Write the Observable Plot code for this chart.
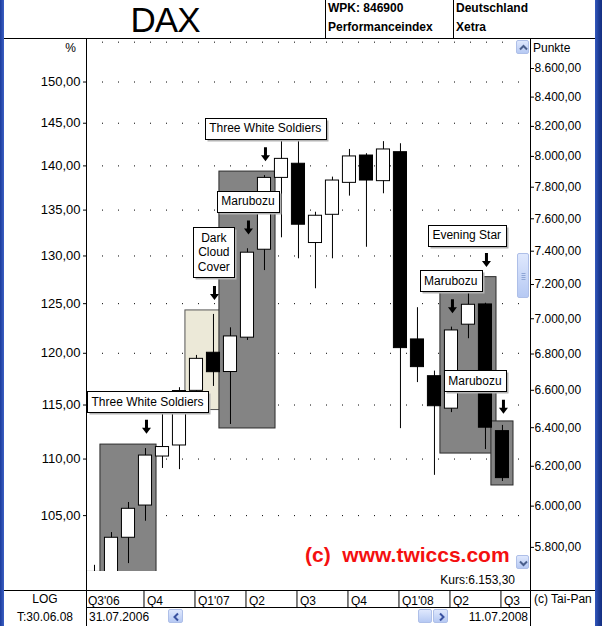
<!DOCTYPE html>
<html>
<head>
<meta charset="utf-8">
<script src="https://cdn.jsdelivr.net/npm/d3@7"></script>
<script src="https://cdn.jsdelivr.net/npm/@observablehq/plot@0.6"></script>
<style>
html,body{margin:0;padding:0;background:#fff;}
body{width:602px;height:626px;position:relative;overflow:hidden;font-family:"Liberation Sans",Arial,sans-serif;color:#000;}
.abs{position:absolute;white-space:pre;}
.ln{position:absolute;background:#000;}
.t12{font-size:12px;line-height:16px;}
.b12{font-size:12px;line-height:16px;font-weight:bold;}
.btn{position:absolute;box-sizing:border-box;border:1px solid #aebfe8;border-radius:2px;background:linear-gradient(#dfe8fd,#b6c9f3);}
.btn svg{position:absolute;left:0;top:0;}
</style>
</head>
<body>
<div id="main" class="abs" style="left:0;top:38px;"></div>
<div id="quarters" class="abs" style="left:0;top:590px;"></div>

<script>
// ---------------- data ----------------
const months = ["Jul 06","Aug 06","Sep 06","Oct 06","Nov 06","Dec 06",
  "Jan 07","Feb 07","Mar 07","Apr 07","May 07","Jun 07","Jul 07","Aug 07","Sep 07","Oct 07","Nov 07","Dec 07",
  "Jan 08","Feb 08","Mar 08","Apr 08","May 08","Jun 08","Jul 08"];
const open  = [5684,5681,5846,6003,6250,6307,6597,6807,6700,6892,7409,7860,7952,7450,7625,7828,8006,7839,8028,6882,6677,6501,6966,7083,6382];
const high  = [5715,5871,6018,6291,6500,6614,6792,7025,6948,7415,7875,8140,8150,7641,7865,8046,8018,8098,8084,7064,6705,6952,7220,7090,6412];
const low   = [5380,5590,5723,5926,6189,6183,6515,6621,6417,6876,7283,7482,7354,7175,7354,7743,7424,7758,6395,6642,6154,6480,6886,6286,6123];
const close = [5682,5846,5987,6255,6299,6596,6773,6699,6899,7391,7860,7984,7563,7619,7843,8000,7843,8046,6833,6727,6514,6933,7081,6400,6140];

const base = 5670;                      // 100 % reference level (points)
const pctTicks = [105,110,115,120,125,130,135,140,145,150];
const pctGrid = [105,110,115,120,125,130,135,140,145,150,155];
const pointTicks = [5800,6000,6200,6400,6600,6800,7000,7200,7400,7600,7800,8000,8200,8400,8600];

const quarterLabels = ["Q3'06","Q4","Q1'07","Q2","Q3","Q4","Q1'08","Q2","Q3"];
const quarterStart  = [0,3,6,9,12,15,18,21,24];   // month index where each quarter starts

// highlighted pattern ranges (month indices)
const boxFrom = [1,6,8,21,24];
const boxTo   = [3,7,10,23,24];
const boxKind = ["gray","beige","gray","gray","gray"];

// pattern annotations: name, month of arrow, arrow level, label anchor (month, level)
const patternNames   = ["Three White Soldiers","Dark\nCloud\nCover","Marubozu","Three White Soldiers","Evening Star","Marubozu","Marubozu"];
const patternMonth   = [3,7,9,10,23,21,24];
const patternArrow   = [6405,7150,7546,8014,7346,7073,6511];
const patternLabelX  = [3.12,7.02,9.03,10.04,21.9,20.96,22.38];
const patternLabelY  = [6541,7398,7715,8191,7503,7226,6656];

const lastQuote = "Kurs:6.153,30";

// ---------------- tables ----------------
const candles = months.map((m,i)=>({i, m, o:open[i], h:high[i], l:low[i], c:close[i]}));
const boxes = boxFrom.map((f,k)=>({
  x1: f - 0.65, x2: boxTo[k] + 0.65,
  top: d3.max(high.slice(f, boxTo[k]+1)),
  bottom: d3.min(low.slice(f, boxTo[k]+1)),
  kind: boxKind[k]
}));
const patterns = patternNames.map((n,k)=>({name:n, at:patternMonth[k], arrow:patternArrow[k], lx:patternLabelX[k], ly:patternLabelY[k]}));
const quarters = quarterLabels.map((q,k)=>({label:q, idx:quarterStart[k]}));

const loc = d3.formatLocale({decimal:",", thousands:".", grouping:[3], currency:["",""]});
const fmtPts = loc.format(",.2f");
const fmtPct = loc.format(".2f");

const xDomain = [-0.47, 25.65];
const font = "'Liberation Sans', Arial, sans-serif";

const arrowSymbol = {draw(ctx){
  ctx.moveTo(-1.5,-7); ctx.lineTo(1.5,-7); ctx.lineTo(1.5,1); ctx.lineTo(4.5,1);
  ctx.lineTo(0,7); ctx.lineTo(-4.5,1); ctx.lineTo(-1.5,1); ctx.closePath();
}};

// ---------------- main chart ----------------
const chart = Plot.plot({
  width: 602, height: 552,
  marginLeft: 86, marginRight: 72, marginTop: 0, marginBottom: 19,
  style: {background: "transparent", fontFamily: font, fontSize: "12px", color: "#000"},
  x: {type: "linear", domain: xDomain, axis: null},
  y: {type: "log", domain: [5686, 8815]},
  color: {type: "identity"},
  marks: [
    Plot.ruleY(pctGrid, {y: d => d * base / 100, stroke: "#000", strokeDasharray: "1,15"}),
    Plot.rect(boxes, {x1: "x1", x2: "x2", y1: "bottom", y2: "top",
      fill: d => d.kind === "beige" ? "#ece9d8" : "#848484",
      stroke: d => d.kind === "beige" ? "#555" : "#2a2a2a",
      insetTop: -4, insetBottom: -4, clip: true}),
    Plot.ruleX(candles, {x: "i", y1: "l", y2: "h", stroke: "#000", clip: true}),
    Plot.rect(candles, {x1: d => d.i - 0.385, x2: d => d.i + 0.385,
      y1: d => Math.min(d.o, d.c), y2: d => Math.max(d.o, d.c),
      fill: d => d.c < d.o ? "#000" : "#fff", stroke: "#000", clip: true}),
    Plot.dot(patterns, {x: "at", y: "arrow", symbol: arrowSymbol, r: 5, fill: "#000", stroke: null, dx: 1}),
    Plot.text(patterns, {x: "lx", y: "ly", text: "name", fontSize: 12, lineHeight: 1.2, fill: "#000"}),
    Plot.axisY(pctTicks.map(p => p * base / 100), {anchor: "left", tickSize: 3, tickPadding: 3,
      tickFormat: d => fmtPct(d / base * 100), fontSize: 13, label: null}),
    Plot.axisY(pointTicks, {anchor: "right", tickSize: 3, tickPadding: 1,
      tickFormat: fmtPts, fontSize: 12, label: null})
  ]
});
document.getElementById("main").appendChild(chart);

// label boxes behind the pattern names
(function(){
  const NS = "http://www.w3.org/2000/svg";
  const tg = chart.querySelector('g[aria-label="text"]');
  if (!tg) return;
  const sr = chart.getBoundingClientRect();
  const g = document.createElementNS(NS, "g");
  const px = 4.5, py = 3.5;
  for (const t of Array.from(tg.querySelectorAll("text"))) {
    const r = t.getBoundingClientRect();
    const x0 = Math.round(r.left - sr.left - px) + 0.5;
    const y0 = Math.round(r.top - sr.top - py) + 0.5;
    const w = Math.round(r.width + 2*px), h = Math.round(r.height + 2*py);
    const sh = document.createElementNS(NS, "rect");
    sh.setAttribute("x", x0 + 2); sh.setAttribute("y", y0 + 2);
    sh.setAttribute("width", w); sh.setAttribute("height", h);
    sh.setAttribute("fill", "#b4b4b4");
    g.appendChild(sh);
    const bx = document.createElementNS(NS, "rect");
    bx.setAttribute("x", x0); bx.setAttribute("y", y0);
    bx.setAttribute("width", w); bx.setAttribute("height", h);
    bx.setAttribute("fill", "#fff"); bx.setAttribute("stroke", "#000");
    g.appendChild(bx);
  }
  tg.parentNode.insertBefore(g, tg);
})();

// ---------------- quarter row ----------------
const qchart = Plot.plot({
  width: 602, height: 17,
  marginLeft: 86, marginRight: 72, marginTop: 0, marginBottom: 0,
  style: {background: "transparent", fontFamily: font, fontSize: "12px", color: "#000"},
  x: {type: "linear", domain: xDomain, axis: null},
  marks: [
    Plot.ruleX(quarters.slice(1), {x: "idx", dx: -1.5, stroke: "#000"}),
    Plot.text(quarters, {x: (d, i) => i === 0 ? xDomain[0] : d.idx, text: "label",
      textAnchor: "start", frameAnchor: "middle", dx: 1.5, dy: 2, fontSize: 12, fill: "#000"})
  ]
});
document.getElementById("quarters").appendChild(qchart);
</script>

<!-- frame lines -->
<div class="ln" style="left:4px;top:38px;width:591px;height:1px;"></div>
<div class="ln" style="left:325px;top:0;width:1px;height:38px;"></div>
<div class="ln" style="left:453px;top:0;width:1px;height:38px;"></div>
<div class="ln" style="left:86px;top:38px;width:1px;height:588px;"></div>
<div class="ln" style="left:530px;top:38px;width:1px;height:588px;"></div>
<div class="ln" style="left:4px;top:590px;width:591px;height:1px;"></div>
<div class="ln" style="left:86px;top:607px;width:444px;height:1px;"></div>

<!-- header -->
<div class="abs" style="left:95px;top:0px;width:140px;text-align:center;font-size:35px;line-height:40px;letter-spacing:-1px;">DAX</div>
<div class="abs b12" style="left:328px;top:0px;">WPK: 846900</div>
<div class="abs b12" style="left:328px;top:19px;">Performanceindex</div>
<div class="abs b12" style="left:456px;top:0px;">Deutschland</div>
<div class="abs b12" style="left:456px;top:19px;">Xetra</div>

<!-- axis titles -->
<div class="abs t12" style="left:40px;top:40px;width:36px;text-align:right;">%</div>
<div class="abs t12" style="left:533px;top:40px;">Punkte</div>

<!-- watermark and last quote -->
<div class="abs" id="wm" style="left:305px;top:543px;font-size:21px;line-height:24px;font-weight:bold;color:#f41010;"></div>
<div class="abs t12" id="kurs" style="left:395px;top:572px;width:120px;text-align:right;"></div>

<!-- bottom rows -->
<div class="abs t12" style="left:4px;top:591px;width:82px;text-align:center;">LOG</div>
<div class="abs t12" style="left:4px;top:609px;width:82px;text-align:center;">T:30.06.08</div>
<div class="abs t12" style="left:534px;top:591px;">(c) Tai-Pan</div>
<div class="abs t12" style="left:89px;top:609px;">31.07.2006</div>
<div class="abs t12" style="left:430px;top:609px;width:98px;text-align:right;">11.07.2008</div>

<!-- scroll controls -->
<div class="btn" style="left:516px;top:40px;width:13px;height:14px;"><svg width="13" height="14"><polyline points="3,8.5 6.5,5 10,8.5" fill="none" stroke="#4a5f8c" stroke-width="2"/></svg></div>
<div class="btn" style="left:516px;top:555px;width:13px;height:14px;"><svg width="13" height="14"><polyline points="3,5.5 6.5,9 10,5.5" fill="none" stroke="#4a5f8c" stroke-width="2"/></svg></div>
<div class="btn" style="left:517px;top:253px;width:12px;height:45px;"><svg width="12" height="45"><path d="M3.5 19.5h4M3.5 21.5h4M3.5 23.5h4M3.5 25.5h4" stroke="#8fa6d6" stroke-width="1"/></svg></div>
<div class="btn" style="left:168px;top:609px;width:15px;height:14px;"><svg width="15" height="14"><polyline points="9,3.5 5.5,7 9,10.5" fill="none" stroke="#3a52a0" stroke-width="2"/></svg></div>
<div class="btn" style="left:418px;top:609px;width:14px;height:14px;"></div>
<div class="btn" style="left:433px;top:609px;width:15px;height:14px;"><svg width="15" height="14"><polyline points="6,3.5 9.5,7 6,10.5" fill="none" stroke="#3a52a0" stroke-width="2"/></svg></div>

<!-- window borders -->
<div class="abs" style="left:0;top:0;width:4px;height:626px;background:linear-gradient(90deg,#1b3b9c,#3c60c4);"></div>
<div class="abs" style="left:595px;top:0;width:7px;height:626px;background:linear-gradient(90deg,#3358bd,#1d3c96 55%,#142f80);"></div>

<script>
document.getElementById("wm").textContent = "(c)  www.twiccs.com";
document.getElementById("kurs").textContent = lastQuote;
</script>
</body>
</html>
